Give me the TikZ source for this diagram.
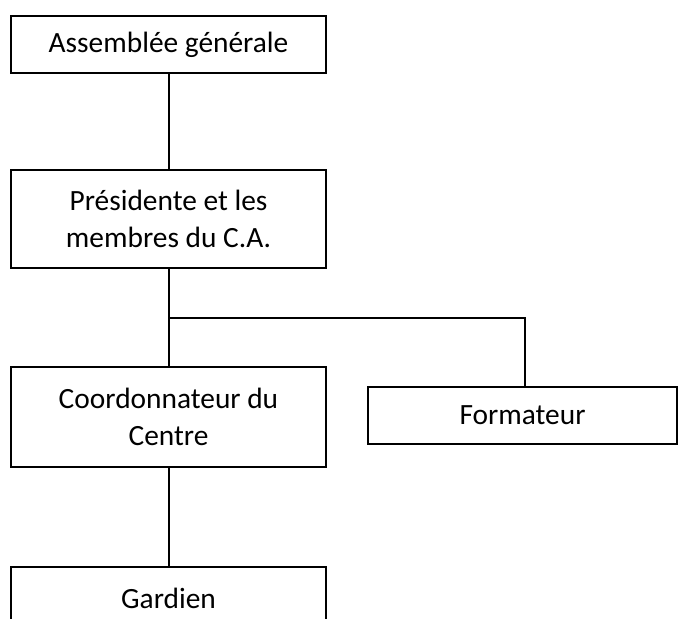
\documentclass[tikz,border=0pt]{standalone}
\usepackage{fontspec}
\setmainfont{Carlito}
\begin{document}
\begin{tikzpicture}[x=1bp,y=-1bp,
  orgbox/.style={draw=black, line width=2bp, rectangle, inner sep=0pt, align=center,
    font=\fontsize{29.5}{36.5}\selectfont, text=black},
  link/.style={draw=black, line width=2bp}]
\useasboundingbox (0,0) rectangle (678,619);
\clip (0,0) rectangle (678,619);
\node[orgbox, minimum width=315bp, minimum height=57bp] (A) at (168.5,44.5) {Assemblée générale};
\node[orgbox, minimum width=315bp, minimum height=98bp] (P) at (168.5,219) {Présidente et les\\membres du C.A.};
\node[orgbox, minimum width=315bp, minimum height=100bp] (C) at (168.5,417) {Coordonnateur du\\Centre};
\node[orgbox, minimum width=309bp, minimum height=57bp] (F) at (522.5,415.5) {Formateur};
\node[orgbox, minimum width=315bp, minimum height=62bp] (G) at (168.5,598) {Gardien};
\coordinate (J) at (168.5,318);
\coordinate (FT) at ([xshift=2.5bp]F.north);
\draw[link] (A.south) -- (P.north);
\draw[link] (P.south) -- (J) -- (C.north);
\draw[link] (J) -- (J -| FT) -- (FT);
\draw[link] (C.south) -- (G.north);
\end{tikzpicture}
\end{document}
